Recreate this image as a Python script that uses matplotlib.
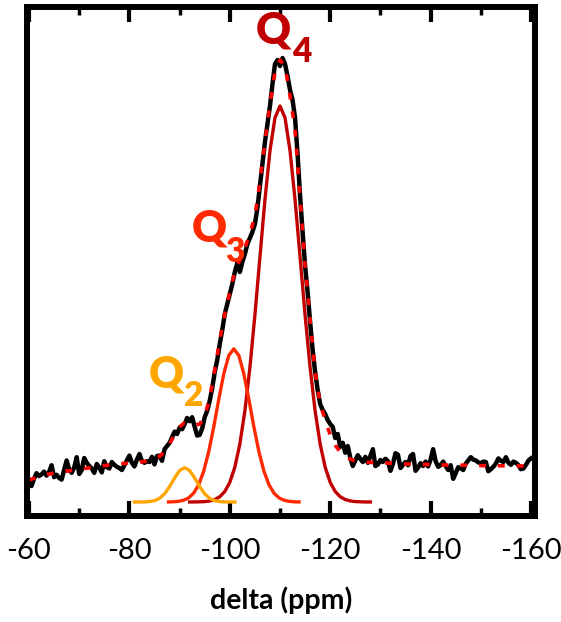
import matplotlib
matplotlib.use("Agg")
import matplotlib.pyplot as plt
import numpy as np

plt.rcParams['font.family'] = ['Lato', 'DejaVu Sans']
plt.rcParams['axes.unicode_minus'] = False

# measured spectrum, -60 ... -160 ppm every 0.5 ppm
spec_ppm = np.arange(-60.0, -160.25, -0.5)
spec_a = [5.5, 4.0, 5.8, 7.2, 6.5, 6.9, 7.6, 6.6, 7.5, 9.2,
          6.2, 6.8, 6.0, 5.6, 8.0, 10.4, 8.2, 7.3, 8.6, 11.2,
          7.0, 8.0, 11.0, 9.8, 9.0, 8.4, 7.3, 9.5, 8.6, 7.4,
          10.2, 8.7, 8.4, 10.0, 9.3, 8.8, 8.5, 8.0, 9.2, 10.4,
          11.6, 9.8, 8.9, 10.6, 12.0, 10.2, 9.8]
spec_b = [10.2, 10.0, 11.3, 9.4, 11.5, 11.6, 10.3, 13.2, 14.0, 14.8,
          16.2, 17.6, 17.0, 18.6, 18.2, 19.5, 21.0, 20.2, 21.2, 18.8,
          16.6, 16.8, 18.4, 21.2, 22.8, 25.3, 28.5, 32.5, 35.5, 39.5,
          43.0]
spec_c = [47.0, 49.5, 52.0, 54.5, 57.5, 59.8, 57.5, 60.0, 62.0, 64.5,
          66.0, 67.5, 69.5, 73.5, 79.0, 84.5, 90.0, 94.5, 99.0, 104.5,
          109.5, 110.5, 109.0, 111.0, 109.5, 106.5]
spec_d = [103.0, 100.5, 96.0, 87.0, 76.5, 67.5, 59.0, 52.5, 45.0, 38.0,
          32.5, 28.0, 24.5]
spec_e = [23.0, 22.0, 20.5, 19.5, 18.8, 16.0, 17.0, 13.8, 14.8, 12.3,
          14.0, 11.0, 9.0, 10.4, 11.7, 10.8, 10.0, 11.3, 9.8, 11.5,
          13.2, 9.0, 9.4, 10.5, 10.0, 10.8, 10.2, 7.8, 9.6, 12.2,
          11.8, 8.5, 9.3, 10.0, 9.2, 11.5, 12.0, 7.8, 8.6, 9.7,
          9.0, 10.1, 8.9, 10.6, 13.2, 10.2, 8.8, 9.2, 10.1, 9.0,
          8.0, 9.2, 5.8, 7.2, 8.7, 8.4, 8.0, 9.6, 10.4, 11.2,
          10.6, 10.4, 9.9, 9.7, 10.1, 10.0, 7.7, 8.2, 8.8, 9.6,
          10.9, 10.3, 10.0, 11.2, 9.8, 9.3, 10.1, 9.8, 9.2, 8.2,
          8.4, 9.3, 10.4, 10.9]
spec_int = spec_a + spec_b + spec_c + spec_d + spec_e

# total fit, every 1 ppm
fit_ppm = np.arange(-60, -161, -1)
fit_int = [5.5, 5.9, 6.3, 6.7, 7.0, 7.25, 7.45, 7.6, 7.8, 8.0,
           8.15, 8.35, 8.55, 8.75, 8.95, 9.1, 9.25, 9.4, 9.55, 9.65,
           9.75, 9.85, 10.0, 10.13, 10.36, 10.74, 11.41, 12.65, 14.56, 16.79,
           18.77, 19.83, 19.79, 19.28, 19.46, 21.42, 26.0, 33.0, 40.5, 47.0,
           52.5, 57.5, 60.5, 63.5, 67.0, 71.5, 80.0, 90.0, 99.5, 107.5,
           110.5, 109.0, 101.5, 93.0, 76.0, 59.0, 45.5, 32.5, 24.5, 20.5,
           16.8, 14.2, 12.5, 11.4, 10.7, 10.26, 10.1, 9.97, 9.9, 9.85,
           9.8, 9.75, 9.7, 9.62, 9.56, 9.5, 9.47, 9.44, 9.42, 9.4,
           9.35, 9.3, 9.25, 9.25, 9.25, 9.25, 9.22, 9.18, 9.15, 9.12,
           9.1, 9.09, 9.08, 9.07, 9.06, 9.05, 9.04, 9.03, 9.02, 9.01, 9.0]

# fitted components
q2_ppm = np.arange(-81, -102, -1)
q2_int = [0.0, 0.01, 0.03, 0.11, 0.34, 0.91, 2.05, 3.83, 6.01, 7.86, 8.6,
          7.86, 6.01, 3.83, 2.05, 0.91, 0.34, 0.11, 0.03, 0.01, 0.0]
q3_ppm = np.linspace(-87.8, -113.8, 27)
q3_int = [0.02, 0.06, 0.17, 0.45, 1.04, 2.21, 4.32, 7.70, 12.57, 18.77,
          25.65, 32.05, 36.63, 38.3, 36.63, 32.05, 25.65, 18.77, 12.57, 7.70,
          4.32, 2.21, 1.04, 0.45, 0.17, 0.06, 0.02]
q4_ppm = np.arange(-92, -129, -1)
q4_int = [0.01, 0.02, 0.05, 0.11, 0.27, 0.62, 1.31, 2.61, 4.91, 8.69,
          14.47, 22.72, 33.57, 46.72, 61.22, 75.55, 87.79, 96.07, 99.0,
          96.07, 87.79, 75.55, 61.22, 46.72, 33.57, 22.72, 14.47, 8.69, 4.91,
          2.61, 1.31, 0.62, 0.27, 0.11, 0.05, 0.02, 0.01]

c_q2 = '#FFA500'
c_q3 = '#FF2A00'
c_q4 = '#C00000'

fig = plt.figure(figsize=(5.61, 6.22), dpi=100)
ax = fig.add_axes([0.0481, 0.1704, 0.9056, 0.8183])

ax.plot(q4_ppm, q4_int, color=c_q4, lw=2.4)
ax.plot(q3_ppm, q3_int, color=c_q3, lw=2.4)
ax.plot(q2_ppm, q2_int, color=c_q2, lw=2.4)
ax.plot(spec_ppm, spec_int, color='black', lw=3.2, solid_joinstyle='round')
ax.plot(fit_ppm, fit_int, color='#FF0000', lw=2.6, dashes=(1.9, 3.3))

# peak labels
lab = dict(fontweight='heavy', ha='center', va='center')
ax.text(-108.6, 117.8, 'Q', color=c_q4, fontsize=31, **lab)
ax.text(-114.3, 112.5, '4', color=c_q4, fontsize=24, **lab)
ax.text(-96.0, 68.5, 'Q', color=c_q3, fontsize=31, **lab)
ax.text(-101.0, 62.6, '3', color=c_q3, fontsize=24, **lab)
ax.text(-87.4, 31.8, 'Q', color=c_q2, fontsize=31, **lab)
ax.text(-92.9, 26.6, '2', color=c_q2, fontsize=24, **lab)

ax.set_xlim(-59.6, -160.8)
ax.set_ylim(-3.5, 123.75)
ax.set_xticks([-60, -80, -100, -120, -140, -160])
ax.set_xticks([-70, -90, -110, -130, -150], minor=True)
ax.set_yticks([])
ax.tick_params(axis='x', which='major', direction='in', top=True, length=11, width=3,
               labelsize=21, pad=16)
ax.tick_params(axis='x', which='minor', direction='in', top=True, length=5.5, width=2.5)
for s in ax.spines.values():
    s.set_linewidth(4.3)

ax.set_xlabel('delta (ppm)', fontsize=20.5, fontweight='bold', labelpad=16)

fig.savefig('out.png', dpi=100)
